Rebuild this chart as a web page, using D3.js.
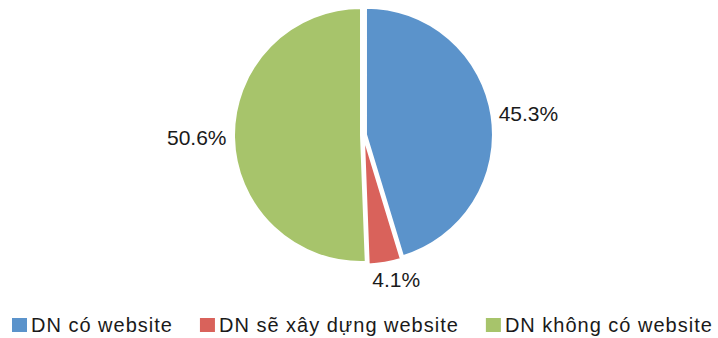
<!DOCTYPE html>
<html lang="vi">
<head>
    <meta charset="UTF-8">
    <title>Website doanh nghiệp</title>
    <script src="https://d3js.org/d3.v7.min.js"></script>
    <style>
        body {
            margin: 0;
            background: #fff;
            font-family: "Liberation Sans", Arial, sans-serif;
        }
        .label {
            font-size: 21px;
            fill: #1a1a1a;
        }
        .legend text {
            font-size: 20px;
            fill: #1a1a1a;
            letter-spacing: 1px;
        }
    </style>
</head>
<body>
<svg width="718" height="338"></svg>

<script>
    // categories and shares (%)
    const categories = ["DN có website", "DN sẽ xây dựng website", "DN không có website"];
    const shares = [45.3, 4.1, 50.6];
    const colors = ["#5b93cb", "#d9625b", "#a7c46b"];

    const svg = d3.select("svg");
    const cx = 363.5, cy = 135, radius = 127;

    const pie = d3.pie().sort(null).value(d => d);
    const arcs = pie(shares);
    const arc = d3.arc().innerRadius(0).outerRadius(radius);

    const g = svg.append("g").attr("transform", `translate(${cx},${cy})`);

    // slightly exploded slices
    const explode = 2.5;
    g.selectAll("path")
      .data(arcs)
      .enter().append("path")
        .attr("d", arc)
        .attr("fill", (d, i) => colors[i])
        .attr("stroke", "#fff")
        .attr("stroke-width", 2)
        .attr("transform", d => {
            const a = (d.startAngle + d.endAngle) / 2;
            return `translate(${explode * Math.sin(a)},${-explode * Math.cos(a)})`;
        });

    // outside-end labels, box pushed away from the pie
    const labelR = radius + 10;
    g.selectAll(".label")
      .data(arcs)
      .enter().append("text")
        .attr("class", "label")
        .text(d => d.data.toFixed(1) + "%")
        .each(function(d) {
            const a = (d.startAngle + d.endAngle) / 2;
            const ux = Math.sin(a), uy = -Math.cos(a);
            const bb = this.getBBox();
            const x = labelR * ux + ux * bb.width / 2 + (Math.abs(ux) < 0.5 ? 6 : 0);
            const y = labelR * uy + uy * 10;
            d3.select(this)
              .attr("x", x)
              .attr("y", y)
              .attr("text-anchor", "middle")
              .attr("dy", "0.35em");
        });

    // legend
    const legend = svg.append("g").attr("class", "legend");
    let lx = 12;
    categories.forEach((c, i) => {
        const item = legend.append("g");
        item.append("rect")
            .attr("x", lx).attr("y", 318)
            .attr("width", 15).attr("height", 14)
            .attr("fill", colors[i]);
        const t = item.append("text")
            .attr("x", lx + 19).attr("y", 332)
            .text(c);
        lx += 19 + t.node().getComputedTextLength() + 27;
    });
</script>
</body>
</html>
